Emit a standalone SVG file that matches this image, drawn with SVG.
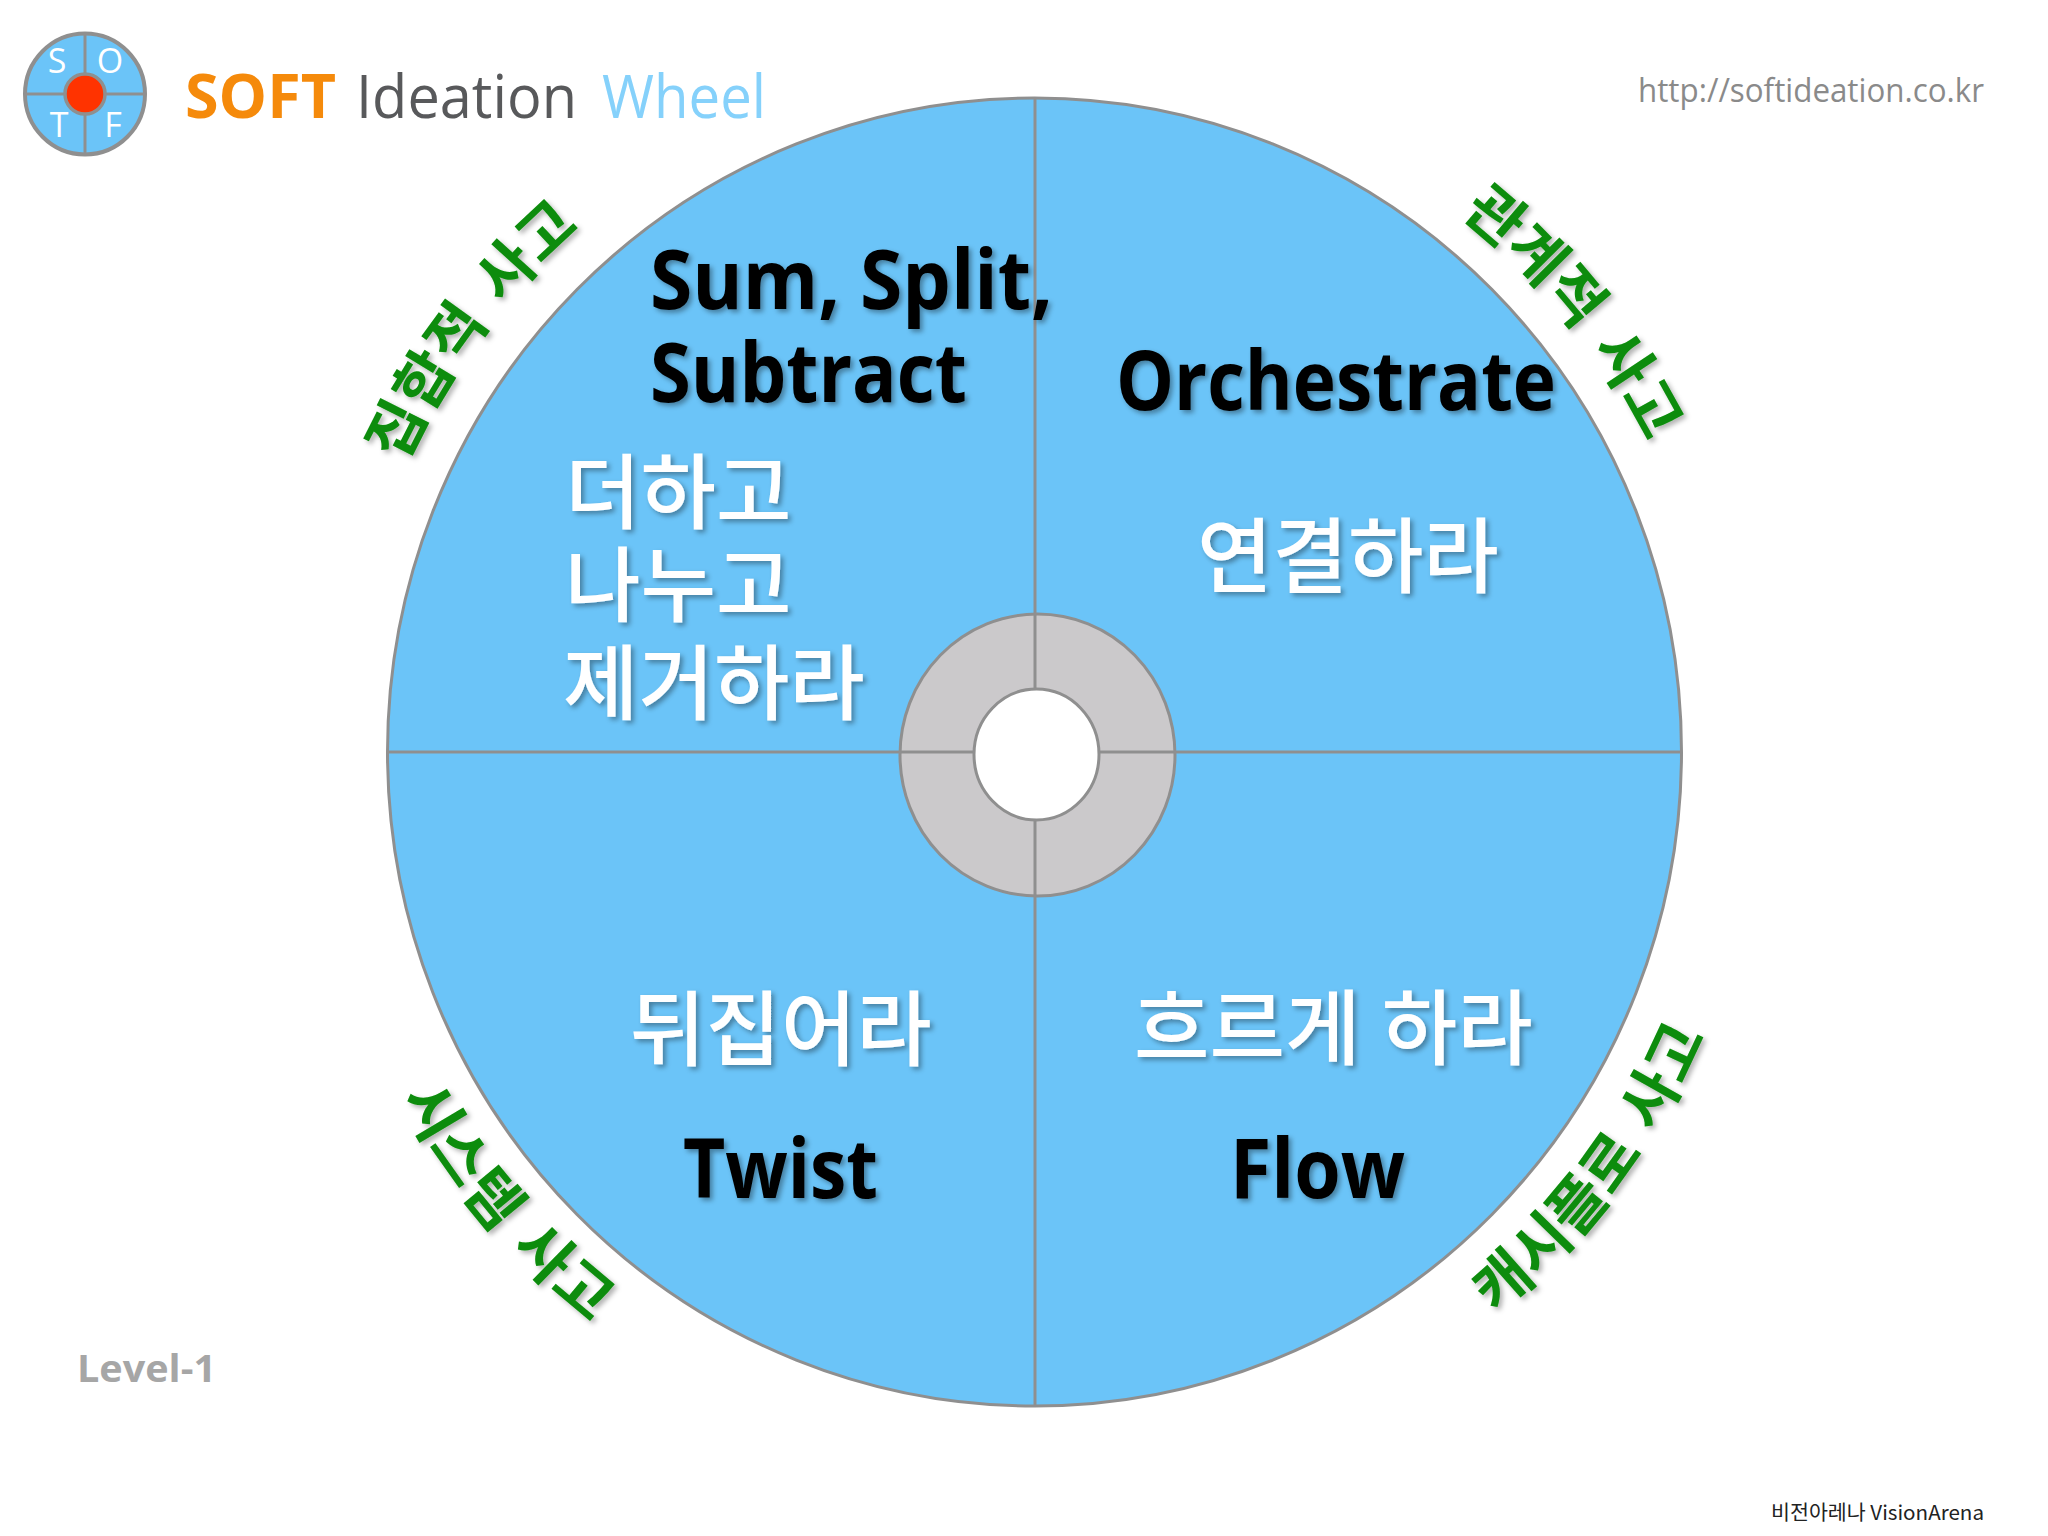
<svg xmlns="http://www.w3.org/2000/svg" width="2048" height="1536" viewBox="0 0 2048 1536">
<style>
.ln{stroke:#8f8f8f;stroke-width:3;fill:none}
.b{font-family:"Open Sans","Noto Sans CJK KR",sans-serif;font-weight:700;font-size:82px;fill:#000;filter:url(#sd)}
.k{font-family:"Noto Sans CJK KR","Open Sans",sans-serif;font-weight:500;font-size:82px;fill:#fff;filter:url(#sd)}
.g{font-family:"Noto Sans CJK KR",sans-serif;font-weight:700;font-size:60px;fill:#0a8c0a;filter:url(#sg);text-anchor:middle;word-spacing:8px}
.t{font-family:"Open Sans",sans-serif;font-size:60px}
.lg{font-family:"Open Sans",sans-serif;font-size:34px;fill:#fff;text-anchor:middle}
</style>
<defs>
<filter id="sd" x="-10%" y="-20%" width="125%" height="150%"><feDropShadow dx="3" dy="3" stdDeviation="2.5" flood-color="#000" flood-opacity=".35"/></filter>
<filter id="sg" x="-10%" y="-20%" width="125%" height="150%"><feDropShadow dx="3" dy="3" stdDeviation="2.5" flood-color="#000" flood-opacity=".3"/></filter>
<path id="aTL" d="M355.6 612.6A693 693 0 0 1 704.1 142.4"/>
<path id="aTR" d="M1352.3 144.1A686 686 0 0 1 1704.5 604.7"/>
<path id="aBR" d="M1384.1 1390.5A728 728 0 0 0 1748.4 894.6"/>
<path id="aBL" d="M338.5 947.6A723 723 0 0 0 737 1411"/>
</defs>
<rect width="2048" height="1536" fill="#fff"/>
<g id="logo">
<ellipse cx="85" cy="94" rx="60" ry="60.5" fill="#6bc4f8" stroke="#8f8f8f" stroke-width="4"/>
<path d="M85 33V155M25 94H145" stroke="#8f8f8f" stroke-width="3" fill="none"/>
<ellipse cx="85" cy="94" rx="20" ry="20" fill="#ff3300" stroke="#8f8f8f" stroke-width="3.5"/>
<text class="lg" x="57" y="73">S</text><text class="lg" x="110" y="73">O</text>
<text class="lg" x="59" y="137">T</text><text class="lg" x="113" y="137">F</text>
</g>
<g id="title">
<text class="t" x="185" y="118" font-weight="700" fill="#f58a0b" textLength="151" lengthAdjust="spacingAndGlyphs">SOFT</text>
<text class="t" x="356" y="118" fill="#58595b" textLength="221" lengthAdjust="spacingAndGlyphs">Ideation</text>
<text class="t" x="602" y="118" fill="#85d1fb" textLength="164" lengthAdjust="spacingAndGlyphs">Wheel</text>
</g>
<text id="url" x="1638" y="102" font-family="Open Sans,sans-serif" font-size="33" fill="#8a8a8a" textLength="346" lengthAdjust="spacingAndGlyphs">http://softideation.co.kr</text>
<g id="wheel">
<ellipse cx="1034.5" cy="752" rx="647" ry="654" fill="#6bc4f8" stroke="#8f8f8f" stroke-width="3"/>
</g>
<g id="hub">
<ellipse cx="1037.5" cy="755" rx="137.5" ry="141" fill="#cbc9cb" stroke="#8f8f8f" stroke-width="3"/>
</g>
<g id="connectors">
<path class="ln" d="M1035 98V689M1035 820V1405M388 752H974M1099 752H1681"/>
</g>
<g id="hole">
<ellipse cx="1036.5" cy="754.5" rx="62.5" ry="65.5" fill="#fff" stroke="#8f8f8f" stroke-width="3"/>
</g>
<g id="q1">
<text class="b" x="650" y="309" textLength="403" lengthAdjust="spacingAndGlyphs">Sum, Split,</text>
<text class="b" x="650" y="402" textLength="317" lengthAdjust="spacingAndGlyphs">Subtract</text>
<text class="k" x="565" y="522">더하고</text>
<text class="k" x="565" y="615">나누고</text>
<text class="k" x="563" y="713">제거하라</text>
</g>
<g id="q2">
<text class="b" x="1116" y="410" textLength="440" lengthAdjust="spacingAndGlyphs">Orchestrate</text>
<text class="k" x="1197" y="586">연결하라</text>
</g>
<g id="q3">
<text class="k" x="630" y="1059">뒤집어라</text>
<text class="b" x="683" y="1198" textLength="195" lengthAdjust="spacingAndGlyphs">Twist</text>
</g>
<g id="q4">
<text class="k" x="1134" y="1058" word-spacing="3">흐르게 하라</text>
<text class="b" x="1230" y="1198" textLength="175" lengthAdjust="spacingAndGlyphs">Flow</text>
</g>
<g id="labels">
<text class="g"><textPath href="#aTL" startOffset="50.5%">집합적 사고</textPath></text>
<text class="g"><textPath href="#aTR" startOffset="46.4%">관계적 사고</textPath></text>
<text class="g"><textPath href="#aBR" startOffset="49%">캐시플로 사고</textPath></text>
<text class="g"><textPath href="#aBL" startOffset="49.4%">시스템 사고</textPath></text>
</g>
<text id="level" x="77" y="1382" font-family="Open Sans,sans-serif" font-weight="700" font-size="38" fill="#a6a6a6" textLength="139" lengthAdjust="spacingAndGlyphs">Level-1</text>
<text id="credit" x="1771" y="1520" font-family="Noto Sans CJK KR,sans-serif" font-size="20" fill="#222" textLength="213" lengthAdjust="spacingAndGlyphs">비전아레나 VisionArena</text>
</svg>
